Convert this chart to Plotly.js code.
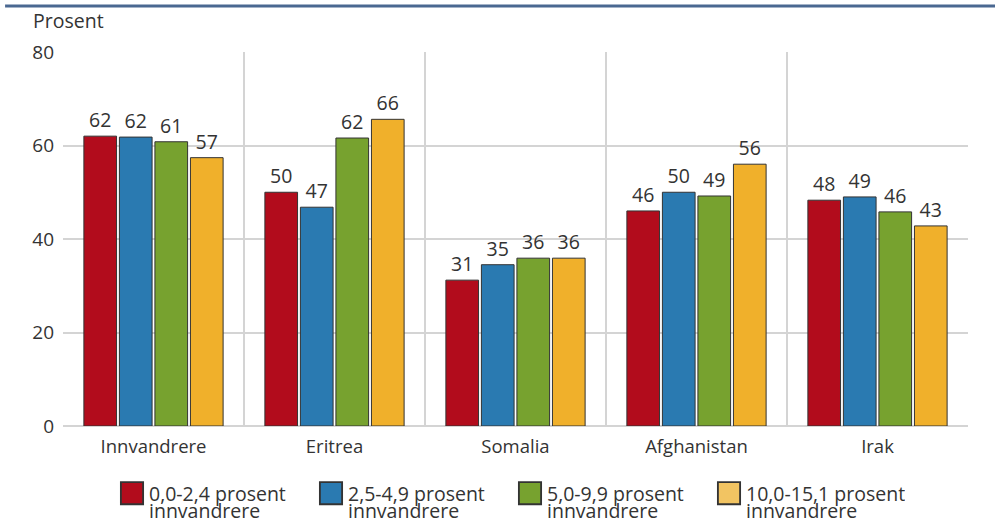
<!DOCTYPE html>
<html><head><meta charset="utf-8">
<script src="https://cdn.plot.ly/plotly-3.0.1.min.js"></script>
<style>body{margin:0;background:#fff}#c{width:995px;height:522px}</style>
</head><body><div id="c"></div>
<script>
const categories = ["Innvandrere", "Eritrea", "Somalia", "Afghanistan", "Irak"];
const seriesNames = ["0,0-2,4 prosent<br>innvandrere", "2,5-4,9 prosent<br>innvandrere", "5,0-9,9 prosent<br>innvandrere", "10,0-15,1 prosent<br>innvandrere"];
const s1 = [62.0, 50.0, 31.2, 46.0, 48.3];
const s2 = [61.8, 46.8, 34.5, 50.0, 49.0];
const s3 = [60.8, 61.6, 35.9, 49.2, 45.8];
const s4 = [57.4, 65.6, 35.9, 56.0, 42.8];
const labels1 = ["62", "50", "31", "46", "48"];
const labels2 = ["62", "47", "35", "50", "49"];
const labels3 = ["61", "62", "36", "49", "46"];
const labels4 = ["57", "66", "36", "56", "43"];
const yTicks = [0, 20, 40, 60, 80];
const colors = ["#b20c1c", "#2a7ab1", "#77a22f", "#f0b02b"];
const legendSwatchColors = ["#b20c1c", "#2a7ab1", "#77a22f", "#f2c462"];

const font = "Open Sans, Noto Sans, sans-serif";
const series = [s1, s2, s3, s4];
const lbls = [labels1, labels2, labels3, labels4];
const traces = series.map((s, i) => ({
  type: "bar", x: categories, y: s, name: seriesNames[i],
  text: lbls[i], textposition: "outside", cliponaxis: false,
  textfont: {size: 19.5, color: "#333", family: font},
  marker: {color: colors[i], line: {color: "#333", width: 1}},
  hoverinfo: "skip"
}));
// invisible trace carrying category separators on a linear overlay axis
traces.push({type: "scatter", x: [0, categories.length], y: [0, 0], xaxis: "x2", mode: "none", showlegend: false, hoverinfo: "skip"});

const layout = {
  width: 995, height: 522,
  margin: {l: 63, r: 27, t: 52, b: 96},
  paper_bgcolor: "#fff", plot_bgcolor: "#fff",
  font: {family: font, color: "#333", size: 19},
  barmode: "group", bargap: 0.215, bargroupgap: 0.08,
  xaxis: {type: "category", showgrid: false, zeroline: false, showline: false, ticks: "",
    tickfont: {size: 18.5, color: "#333"}, ticklabelstandoff: 7},
  xaxis2: {overlaying: "x", range: [0, categories.length], dtick: 1, showgrid: true,
    gridcolor: "#d4d4d4", gridwidth: 2, showticklabels: false, zeroline: false, showline: false},
  yaxis: {range: [0, 80], tickvals: yTicks, showgrid: true, gridcolor: "#d4d4d4", gridwidth: 2,
    zeroline: true, zerolinecolor: "#d4d4d4", zerolinewidth: 2, ticks: "", ticklabelstandoff: 8,
    tickfont: {size: 19, color: "#333"}},
  showlegend: true,
  legend: {orientation: "h", xref: "container", yref: "container", x: 109 / 995, xanchor: "left",
    y: 1 - 474 / 522, yanchor: "top", entrywidth: 154, font: {size: 19.5, color: "#333"},
    tracegroupgap: 0, valign: "top", bgcolor: "rgba(0,0,0,0)"},
  annotations: [{text: "Prosent", xref: "paper", yref: "paper", x: 0, y: 1, xshift: -32, yshift: 16,
    xanchor: "left", yanchor: "bottom", showarrow: false, font: {size: 19.5, color: "#333"}}],
  shapes: [{type: "line", xref: "paper", yref: "paper", x0: -0.064, x1: 1.03, y0: 1.123, y1: 1.123,
    line: {color: "#4a6891", width: 3}}]
};
Plotly.newPlot("c", traces, layout, {displayModeBar: false, staticPlot: true}).then(() => {
  document.querySelectorAll(".legend .traces").forEach((g, i) => {
    g.querySelectorAll(".legendpoints path").forEach(p => {
      const t = p.getAttribute("transform") || "";
      p.setAttribute("transform", t + " translate(3,0) scale(1.85)");
      if (legendSwatchColors[i]) p.style.fill = legendSwatchColors[i];
    });
  });
  document.querySelectorAll(".legend text.legendtext tspan.line").forEach(ts => {
    const dy = ts.getAttribute("dy");
    if (dy && dy.endsWith("em")) ts.setAttribute("dy", (parseFloat(dy) * 0.87 / 1.3) + "em");
  });
});
</script></body></html>
